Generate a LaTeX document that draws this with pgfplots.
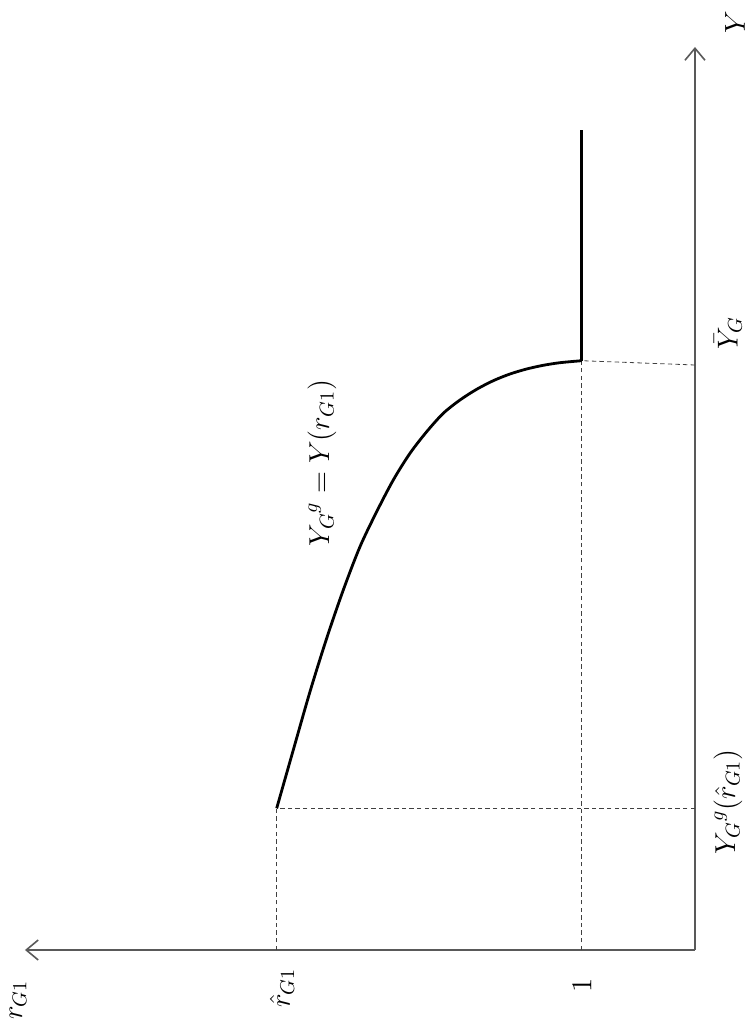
\documentclass[border=0pt]{standalone}
\usepackage{pgfplots}
\pgfplotsset{compat=1.18}
\usetikzlibrary{arrows.meta}
\begin{document}
\begin{tikzpicture}[x=0.5pt,y=0.5pt]
\useasboundingbox (-695,-74) rectangle (56,950);
\begin{axis}[
  at={(0,0)}, anchor=south east,
  scale only axis, width=335pt, height=451.5pt,
  x dir=reverse,
  xmin=0, xmax=670, ymin=0, ymax=903,
  axis lines=none,
  ticks=none,
  clip=false,
]
% axes
\addplot[gray!70!black, line width=0.8pt, -{Straight Barb[length=6pt,width=10pt]}] coordinates {(0,0) (670,0)};
\addplot[gray!70!black, line width=0.8pt, -{Straight Barb[length=6pt,width=10pt]}] coordinates {(0,0) (0,903)};
% dashed guides
\addplot[black!75, line width=0.4pt, dash pattern=on 2.2pt off 1.6pt] coordinates {(418.3,0) (418.3,141.7)};
\addplot[black!75, line width=0.4pt, dash pattern=on 2.2pt off 1.6pt] coordinates {(0,141.7) (418.3,141.7)};
\addplot[black!75, line width=0.4pt, dash pattern=on 2.2pt off 1.6pt] coordinates {(113.3,0) (113.3,589.3)};
\addplot[black!75, line width=0.4pt, dash pattern=on 2.2pt off 1.6pt] coordinates {(0,585) (113.3,589.3)};
% curve
\addplot[black, line width=1.4pt, smooth] coordinates {
(418.3,141.7) (401.7,200) (385,258.3) (368.3,311.7) (351.7,360) (335,403.3)
(318.3,438.3) (301.7,470) (285,496.7) (268.3,518.3) (251.7,536.7) (235,550)
(218.3,560.7) (201.7,569.3) (185,576) (168.3,581) (151.7,584.7) (135,587.3) (113.3,589.3)};
\addplot[black, line width=1.4pt] coordinates {(113.3,589.3) (113.3,820)};
% labels
\node[rotate=90, font=\fontsize{14.5}{17}\selectfont] at (axis cs:-40,928) {$Y$};
\node[rotate=90, font=\fontsize{14.5}{17}\selectfont] at (axis cs:677,-50) {$r_{G1}$};
\node[rotate=90, font=\fontsize{14.5}{17}\selectfont] at (axis cs:113,-35) {$1$};
\node[rotate=90, font=\fontsize{14.5}{17}\selectfont] at (axis cs:413,-38) {$\hat{r}_{G1}$};
\node[rotate=90, font=\fontsize{14.5}{17}\selectfont] at (axis cs:-33,617) {$\bar{Y}_G$};
\node[rotate=90, font=\fontsize{14.5}{17}\selectfont] at (axis cs:-33,148) {${Y_G}^{g}(\hat{r}_{G1})$};
\node[rotate=90, font=\fontsize{14.5}{17}\selectfont] at (axis cs:373,487) {${Y_G}^{g}=Y(r_{G1})$};
\end{axis}
\end{tikzpicture}
\end{document}
